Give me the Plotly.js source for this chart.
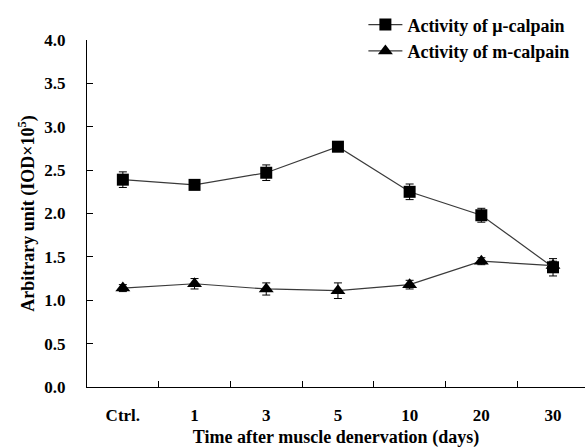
<!DOCTYPE html>
<html>
<head>
<meta charset="utf-8">
<script src="https://cdn.plot.ly/plotly-3.0.1.min.js"></script>
<style>html,body{margin:0;padding:0;background:#fff;}#chart{width:585px;height:448px;}</style>
</head>
<body>
<div id="chart"></div>
<script>
const categories = ["Ctrl.", "1", "3", "5", "10", "20", "30"];
const muCalpain = [2.39, 2.33, 2.47, 2.77, 2.25, 1.98, 1.38];
const muError = [0.09, 0.04, 0.09, 0.03, 0.09, 0.08, 0.10];
const mCalpain = [1.14, 1.19, 1.13, 1.11, 1.18, 1.45, 1.40];
const mError = [0.04, 0.06, 0.07, 0.09, 0.05, 0.04, 0.05];
const yTicks = [0, 0.5, 1, 1.5, 2, 2.5, 3, 3.5, 4];

const xIdx = categories.map((c, i) => i);
const sepTicks = categories.slice(1).map((c, i) => i + 0.5);
const FONT = '"Liberation Serif", "Times New Roman", serif';

const traces = [
  {
    x: xIdx, y: muCalpain, type: 'scatter', mode: 'lines+markers',
    name: '<b>Activity of μ-calpain</b>', legendgroup: 'a',
    line: {color: '#3a3a3a', width: 1.2},
    marker: {symbol: 'square', size: 12, color: '#000'},
    error_y: {type: 'data', array: muError, visible: true, color: '#000', thickness: 1, width: 4}
  },
  {
    x: xIdx, y: mCalpain, type: 'scatter', mode: 'lines+markers',
    name: '<b>Activity of m-calpain</b>', legendgroup: 'b',
    line: {color: '#3a3a3a', width: 1.2},
    marker: {symbol: 'triangle-up', size: 13, color: '#000'},
    error_y: {type: 'data', array: mError, visible: true, color: '#000', thickness: 1, width: 4}
  },
  {
    x: sepTicks, y: sepTicks.map(() => null), xaxis: 'x2', type: 'scatter',
    mode: 'markers', showlegend: false, hoverinfo: 'skip'
  }
];

const xr = [-0.5, 6.446];
const layout = {
  width: 585, height: 448,
  margin: {l: 87, r: 0, t: 40, b: 61},
  paper_bgcolor: '#fff', plot_bgcolor: '#fff',
  font: {family: FONT, size: 17, color: '#000', weight: 'bold'},
  showlegend: true,
  legend: {
    x: 0.555, y: 1.097, xanchor: 'left', yanchor: 'top',
    bgcolor: 'rgba(0,0,0,0)', traceorder: 'grouped', tracegroupgap: 0,
    itemwidth: 34,
    font: {family: FONT, size: 18, color: '#000', weight: 'bold'}
  },
  xaxis: {
    range: xr, tickmode: 'array', tickvals: xIdx, ticktext: categories,
    ticks: '', showline: true, linecolor: '#000', linewidth: 1,
    showgrid: false, zeroline: false, ticklabelstandoff: 13,
    title: {text: '<b>Time after muscle denervation (days)</b>', standoff: 6,
            font: {family: FONT, size: 18, color: '#000', weight: 'bold'}},
    tickfont: {family: FONT, size: 17, color: '#000', weight: 'bold'}
  },
  xaxis2: {
    overlaying: 'x', range: xr, tickmode: 'array', tickvals: sepTicks,
    showticklabels: false, ticks: 'inside', ticklen: 6, tickcolor: '#000',
    showline: false, showgrid: false, zeroline: false, anchor: 'y', side: 'bottom'
  },
  yaxis: {
    range: [0, 4], tickmode: 'array', tickvals: yTicks,
    ticktext: yTicks.map(v => v.toFixed(1)),
    ticks: 'inside', ticklen: 6, tickcolor: '#000',
    showline: true, linecolor: '#000', linewidth: 1,
    showgrid: false, zeroline: false, ticklabelstandoff: 17,
    title: {text: '<b>Arbitrary unit (IOD×10<sup>5</sup>)</b>', standoff: 5,
            font: {family: FONT, size: 18, color: '#000', weight: 'bold'}},
    tickfont: {family: FONT, size: 17, color: '#000', weight: 'bold'}
  }
};

Plotly.newPlot('chart', traces, layout, {displayModeBar: false, staticPlot: true});
</script>
</body>
</html>
